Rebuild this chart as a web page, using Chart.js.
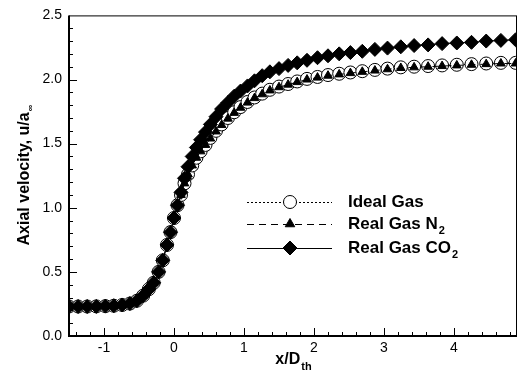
<!DOCTYPE html>
<html>
<head>
    <title>Axial velocity</title>
    <script src="https://cdn.jsdelivr.net/npm/chart.js"></script>
    <style>
        body { margin: 0; background: #fff; }
        #wrap { position: relative; width: 520px; height: 376px; }
    </style>
</head>
<body>
    <div id="wrap"><canvas id="velChart"></canvas></div>

    <script>
        // x/D_th positions of the markers (same for all three curves)
        const xPos = [-1.5, -1.37, -1.24, -1.11, -0.98, -0.86, -0.74, -0.63, -0.53, -0.44,
                      -0.36, -0.29, -0.22, -0.16, -0.1, -0.05, 0, 0.05, 0.1, 0.15,
                      0.2, 0.26, 0.32, 0.38, 0.45, 0.52, 0.6, 0.68, 0.77, 0.86,
                      0.95, 1.05, 1.15, 1.26, 1.37, 1.5, 1.63, 1.76, 1.9, 2.05,
                      2.2, 2.36, 2.52, 2.69, 2.87, 3.05, 3.24, 3.43, 3.63, 3.83,
                      4.04, 4.25, 4.46, 4.67, 4.88];

        const idealGas = [0.23, 0.23, 0.23, 0.231, 0.233, 0.236, 0.242, 0.253, 0.275, 0.315,
                          0.365, 0.415, 0.5, 0.59, 0.71, 0.81, 0.92, 1.02, 1.1, 1.19,
                          1.26, 1.33, 1.39, 1.44, 1.49, 1.545, 1.6, 1.65, 1.7, 1.745,
                          1.785, 1.825, 1.86, 1.89, 1.92, 1.945, 1.965, 1.985, 2.005, 2.02,
                          2.035, 2.045, 2.055, 2.065, 2.075, 2.085, 2.095, 2.1, 2.105, 2.11,
                          2.115, 2.12, 2.125, 2.13, 2.13];

        const realN2 = [0.23, 0.23, 0.23, 0.231, 0.233, 0.236, 0.242, 0.253, 0.275, 0.314,
                        0.364, 0.414, 0.5, 0.59, 0.71, 0.81, 0.92, 1.02, 1.1, 1.19,
                        1.26, 1.33, 1.39, 1.44, 1.49, 1.54, 1.595, 1.645, 1.695, 1.74,
                        1.78, 1.82, 1.855, 1.885, 1.915, 1.94, 1.96, 1.98, 2.0, 2.015,
                        2.03, 2.04, 2.05, 2.06, 2.07, 2.08, 2.09, 2.095, 2.1, 2.105,
                        2.11, 2.115, 2.12, 2.125, 2.125];

        const realCO2 = [0.23, 0.23, 0.23, 0.231, 0.233, 0.236, 0.242, 0.253, 0.275, 0.315,
                         0.365, 0.415, 0.5, 0.59, 0.71, 0.81, 0.92, 1.02, 1.12, 1.23,
                         1.32, 1.4, 1.47, 1.53, 1.59, 1.65, 1.71, 1.77, 1.82, 1.87,
                         1.91, 1.95, 1.99, 2.03, 2.06, 2.085, 2.11, 2.13, 2.15, 2.17,
                         2.185, 2.2, 2.21, 2.22, 2.235, 2.245, 2.255, 2.265, 2.27, 2.28,
                         2.285, 2.29, 2.3, 2.305, 2.31];

        const xTicks = [-1, 0, 1, 2, 3, 4];
        const yTicks = [0, 0.5, 1, 1.5, 2, 2.5];

        // legend text: [main, subscript]
        const legendLabels = [['Ideal Gas', ''], ['Real Gas N', '2'], ['Real Gas CO', '2']];

        const FONT = '"Liberation Sans", Arial, sans-serif';

        function toPoints(ys) {
            return xPos.map((x, i) => ({ x: x, y: ys[i] }));
        }

        const datasets = [
            {
                label: 'Real Gas CO2', data: toPoints(realCO2), order: 0,
                borderColor: '#000', borderWidth: 1, pointStyle: 'rectRot',
                pointRadius: 7, pointBackgroundColor: '#000', pointBorderColor: '#000'
            },
            {
                label: 'Real Gas N2', data: toPoints(realN2), order: 1,
                borderColor: '#000', borderWidth: 1, borderDash: [7, 5], pointStyle: 'triangle',
                pointRadius: 5, pointBackgroundColor: '#000', pointBorderColor: '#000'
            },
            {
                label: 'Ideal Gas', data: toPoints(idealGas), order: 2,
                borderColor: '#000', borderWidth: 1, borderDash: [2, 2], pointStyle: 'circle',
                pointRadius: 6.5, pointBackgroundColor: '#fff', pointBorderColor: '#000'
            }
        ];

        // frame, inward ticks, axis titles with subscripts and the legend
        const decorPlugin = {
            id: 'decor',
            afterDraw(chart) {
                const ctx = chart.ctx;
                const a = chart.chartArea;
                const xs = chart.scales.x, ys = chart.scales.y;
                ctx.save();
                ctx.strokeStyle = '#000';
                ctx.fillStyle = '#000';

                // frame
                ctx.lineWidth = 1;
                ctx.strokeRect(a.left + 0.5, a.top + 0.5, a.right - a.left - 1, a.bottom - a.top - 1);
                ctx.lineWidth = 2;
                ctx.beginPath();
                ctx.moveTo(a.left, a.top);
                ctx.lineTo(a.left, a.bottom);
                ctx.lineTo(a.right, a.bottom);
                ctx.stroke();

                // ticks pointing into the plot
                ctx.lineWidth = 1;
                ctx.beginPath();
                for (let i = -7; i <= 24; i++) {
                    const px = Math.round(xs.getPixelForValue(i * 0.2)) + 0.5;
                    const len = i % 5 === 0 ? 8 : 4;
                    ctx.moveTo(px, a.bottom);
                    ctx.lineTo(px, a.bottom - len);
                }
                for (let i = 1; i < 25; i++) {
                    const py = Math.round(ys.getPixelForValue(i * 0.1)) + 0.5;
                    const len = i % 5 === 0 ? 8 : 4;
                    ctx.moveTo(a.left, py);
                    ctx.lineTo(a.left + len, py);
                }
                ctx.stroke();

                // x title
                ctx.textBaseline = 'alphabetic';
                ctx.textAlign = 'left';
                const bigX = 'bold 16px ' + FONT, smallX = 'bold 11px ' + FONT;
                ctx.font = bigX;
                const w1 = ctx.measureText('x/D').width;
                ctx.font = smallX;
                const w2 = ctx.measureText('th').width;
                let tx = (a.left + a.right) / 2 - (w1 + w2) / 2;
                ctx.font = bigX;
                ctx.fillText('x/D', tx, 364);
                ctx.font = smallX;
                ctx.fillText('th', tx + w1 + 1, 370);

                // y title
                ctx.save();
                ctx.translate(29, (a.top + a.bottom) / 2);
                ctx.rotate(-Math.PI / 2);
                ctx.font = bigX;
                const y1 = ctx.measureText('Axial velocity, u/a').width;
                ctx.font = 'bold 9px ' + FONT;
                const y2 = ctx.measureText('\u221e').width;
                let sx = -(y1 + y2) / 2;
                ctx.font = bigX;
                ctx.fillText('Axial velocity, u/a', sx, 0);
                ctx.font = 'bold 9px ' + FONT;
                ctx.fillText('\u221e', sx + y1 + 1, 4);
                ctx.restore();

                // legend
                const rows = [202, 224, 248];
                const dashes = [[2, 2], [7, 5], []];
                const styles = ['circle', 'triangle', 'rectRot'];
                const fills = ['#fff', '#000', '#000'];
                const radii = [6.5, 5.5, 7];
                rows.forEach((ry, i) => {
                    ctx.lineWidth = 1;
                    ctx.setLineDash(dashes[i]);
                    ctx.beginPath();
                    ctx.moveTo(247, ry + 0.5);
                    ctx.lineTo(332, ry + 0.5);
                    ctx.stroke();
                    ctx.setLineDash([]);
                    ctx.fillStyle = fills[i];
                    Chart.helpers.drawPoint(ctx, { pointStyle: styles[i], radius: radii[i], borderWidth: 1 }, 290, ry);
                    ctx.fillStyle = '#000';
                    ctx.font = 'bold 17px ' + FONT;
                    ctx.textBaseline = 'middle';
                    ctx.fillText(legendLabels[i][0], 348, ry);
                    if (legendLabels[i][1]) {
                        const lw = ctx.measureText(legendLabels[i][0]).width;
                        ctx.font = 'bold 11px ' + FONT;
                        ctx.fillText(legendLabels[i][1], 348 + lw + 1, ry + 7);
                    }
                });
                ctx.restore();
            }
        };

        const ctx = document.getElementById('velChart').getContext('2d');
        const velChart = new Chart(ctx, {
            type: 'line',
            data: { datasets },
            options: {
                responsive: true,
                maintainAspectRatio: false,
                animation: false,
                layout: { autoPadding: false, padding: { left: 0, right: 3, top: 12, bottom: 0 } },
                plugins: { legend: { display: false }, tooltip: { enabled: false } },
                scales: {
                    x: {
                        type: 'linear', min: -1.5, max: 4.9,
                        afterBuildTicks: s => { s.ticks = xTicks.map(v => ({ value: v })); },
                        afterFit: s => { s.height = 40; },
                        grid: { display: false, drawTicks: false },
                        border: { display: false },
                        ticks: { padding: 4, color: '#000', font: { family: FONT, size: 14 } }
                    },
                    y: {
                        type: 'linear', min: 0, max: 2.5,
                        afterBuildTicks: s => { s.ticks = yTicks.map(v => ({ value: v })); },
                        afterFit: s => { s.width = 69; },
                        grid: { display: false, drawTicks: false },
                        border: { display: false },
                        ticks: {
                            padding: 7, color: '#000', font: { family: FONT, size: 14 },
                            callback: v => v.toFixed(1)
                        }
                    }
                }
            },
            plugins: [decorPlugin]
        });
    </script>
</body>
</html>
